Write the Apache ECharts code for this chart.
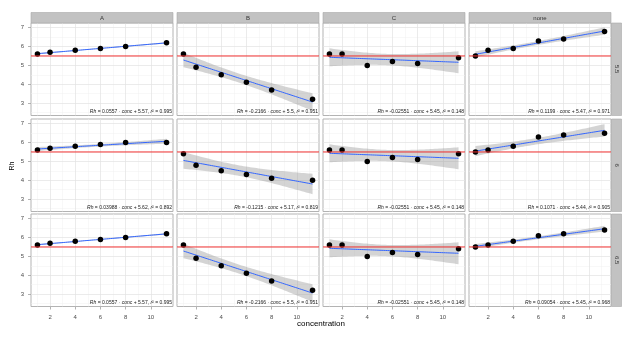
<!DOCTYPE html>
<html><head><meta charset="utf-8">
<script src="https://cdn.jsdelivr.net/npm/echarts@6/dist/echarts.min.js"></script>
<style>html,body{margin:0;padding:0;background:#fff}#c{width:640px;height:339px}</style>
</head><body><div id="c"></div>
<script>
// ---------- data ----------
const concentration = [1, 2, 4, 6, 8, 11.25];
const colFacets = ['A', 'B', 'C', 'none'];
const rowFacets = ['5.5', '6', '6.5'];
const xTicks = [2, 4, 6, 8, 10];
const xMinorTicks = [1, 3, 5, 7, 9, 11];
const yTicks = [3, 4, 5, 6, 7];
const yMinorTicks = [2.5, 3.5, 4.5, 5.5, 6.5];
const refLine = 5.5;

const rh55A = [5.6, 5.7, 5.8, 5.9, 6.0, 6.2];
const rh55B = [5.6, 4.9, 4.5, 4.1, 3.7, 3.2];
const rh55C = [5.6, 5.6, 5.0, 5.2, 5.1, 5.4];
const rh55N = [5.5, 5.8, 5.9, 6.3, 6.4, 6.8];
const rh6A = [5.6, 5.7, 5.8, 5.9, 6.0, 6.0];
const rh6B = [5.4, 4.8, 4.5, 4.3, 4.1, 4.0];
const rh6C = [5.6, 5.6, 5.0, 5.2, 5.1, 5.4];
const rh6N = [5.5, 5.6, 5.8, 6.3, 6.4, 6.5];
const rh65A = [5.6, 5.7, 5.8, 5.9, 6.0, 6.2];
const rh65B = [5.6, 4.9, 4.5, 4.1, 3.7, 3.2];
const rh65C = [5.6, 5.6, 5.0, 5.2, 5.1, 5.4];
const rh65N = [5.5, 5.6, 5.8, 6.1, 6.2, 6.4];

// annotation text: [slope, intercept, r2]
const fit55 = [['0.0557', '5.57', '0.995'], ['-0.2166', '5.5', '0.951'], ['-0.02551', '5.45', '0.148'], ['0.1199', '5.47', '0.971']];
const fit6 = [['0.03988', '5.62', '0.892'], ['-0.1215', '5.17', '0.819'], ['-0.02551', '5.45', '0.148'], ['0.1071', '5.44', '0.905']];
const fit65 = [['0.0557', '5.57', '0.995'], ['-0.2166', '5.5', '0.951'], ['-0.02551', '5.45', '0.148'], ['0.09054', '5.45', '0.968']];

const panelValues = [[rh55A, rh55B, rh55C, rh55N], [rh6A, rh6B, rh6C, rh6N], [rh65A, rh65B, rh65C, rh65N]];
const panelFits = [fit55, fit6, fit65];

// ---------- layout ----------
const X_MIN = 0.4875, X_MAX = 11.7625, Y_MIN = 2.34, Y_MAX = 7.25;
const lefts = [31, 177, 323, 469];
const tops = [23, 119, 214];
const PW = 142, PH = 92.5;
const T975 = 2.776445; // t quantile, df = 4

function linFit(xs, ys) {
  const n = xs.length;
  const xbar = xs.reduce((a, b) => a + b, 0) / n;
  const ybar = ys.reduce((a, b) => a + b, 0) / n;
  let sxx = 0, sxy = 0;
  for (let i = 0; i < n; i++) { sxx += (xs[i] - xbar) ** 2; sxy += (xs[i] - xbar) * (ys[i] - ybar); }
  const b = sxy / sxx, a = ybar - b * xbar;
  let sse = 0;
  for (let i = 0; i < n; i++) sse += (ys[i] - a - b * xs[i]) ** 2;
  return { a, b, s: Math.sqrt(sse / (n - 2)), xbar, sxx, n };
}

const grids = [], xAxes = [], yAxes = [], series = [], titles = [], graphics = [];
const gridColor = '#e3e3e3', minorColor = '#f1f1f1';

for (let r = 0; r < 3; r++) {
  for (let c = 0; c < 4; c++) {
    const gi = r * 4 + c;
    grids.push({ left: lefts[c], top: tops[r], width: PW, height: PH, show: true,
      borderColor: '#b3b3b3', borderWidth: 1, backgroundColor: '#fff' });
    const bottomRow = r === 2, leftCol = c === 0;
    xAxes.push({ gridIndex: gi, type: 'value', min: X_MIN, max: X_MAX, position: 'bottom',
      axisLine: { show: false, onZero: false },
      axisTick: { show: bottomRow, length: 3, customValues: xTicks, lineStyle: { color: '#a0a0a0', width: 0.8 } },
      axisLabel: { show: bottomRow, customValues: xTicks, margin: 8, fontSize: 6, color: '#4d4d4d', fontFamily: 'Liberation Sans' },
      splitLine: { show: true, lineStyle: { color: gridColor, width: 0.7 } }, z: 1 });
    xAxes.push({ gridIndex: gi, type: 'value', min: X_MIN, max: X_MAX, position: 'top',
      axisLine: { show: false, onZero: false }, axisTick: { show: false, customValues: xMinorTicks },
      axisLabel: { show: false }, splitLine: { show: true, lineStyle: { color: minorColor, width: 0.5 } }, z: 0 });
    yAxes.push({ gridIndex: gi, type: 'value', min: Y_MIN, max: Y_MAX, position: 'left',
      axisLine: { show: false, onZero: false },
      axisTick: { show: leftCol, length: 3, customValues: yTicks, lineStyle: { color: '#a0a0a0', width: 0.8 } },
      axisLabel: { show: leftCol, customValues: yTicks, margin: 7, fontSize: 6, color: '#4d4d4d', fontFamily: 'Liberation Sans' },
      splitLine: { show: true, lineStyle: { color: gridColor, width: 0.7 } }, z: 1 });
    yAxes.push({ gridIndex: gi, type: 'value', min: Y_MIN, max: Y_MAX, position: 'right',
      axisLine: { show: false, onZero: false }, axisTick: { show: false, customValues: yMinorTicks },
      axisLabel: { show: false }, splitLine: { show: true, lineStyle: { color: minorColor, width: 0.5 } }, z: 0 });

    const xi = gi * 2, yi = gi * 2;
    const ys = panelValues[r][c];
    const f = linFit(concentration, ys);
    const x0 = concentration[0], x1 = concentration[concentration.length - 1];
    const bandLo = [], bandHi = [], fitLine = [];
    const N = 60;
    for (let k = 0; k <= N; k++) {
      const x = x0 + (x1 - x0) * k / N;
      const yh = f.a + f.b * x;
      const se = f.s * Math.sqrt(1 / f.n + (x - f.xbar) ** 2 / f.sxx);
      bandLo.push([x, yh - T975 * se]);
      bandHi.push([x, yh + T975 * se]);
      fitLine.push([x, yh]);
    }
    series.push({ type: 'custom', xAxisIndex: xi, yAxisIndex: yi, data: [fitLine[0]], silent: true, z: 2,
      clip: true,
      renderItem: (function (lo, hi) {
        return function (params, api) {
          const pts = [];
          for (let k = 0; k < lo.length; k++) pts.push(api.coord(lo[k]));
          for (let k = hi.length - 1; k >= 0; k--) pts.push(api.coord(hi[k]));
          return { type: 'polygon', shape: { points: pts }, style: { fill: 'rgba(153,153,153,0.42)' } };
        };
      })(bandLo, bandHi) });
    series.push({ type: 'custom', xAxisIndex: xi, yAxisIndex: yi, data: [[X_MIN, refLine, X_MAX]], silent: true, z: 6,
      renderItem: function (params, api) {
        const p0 = api.coord([api.value(0), api.value(1)]);
        const p1 = api.coord([api.value(2), api.value(1)]);
        return { type: 'line', shape: { x1: p0[0], y1: p0[1], x2: p1[0], y2: p1[1] },
          style: { stroke: '#f03030', lineWidth: 1, fill: null } };
      } });
    series.push({ type: 'line', xAxisIndex: xi, yAxisIndex: yi, data: fitLine, symbol: 'none',
      lineStyle: { color: '#3366FF', width: 1 }, itemStyle: { color: '#3366FF' }, silent: true, z: 4 });
    series.push({ type: 'scatter', xAxisIndex: xi, yAxisIndex: yi,
      data: concentration.map((x, i) => [x, ys[i]]), symbolSize: 5.5,
      itemStyle: { color: '#000', opacity: 1 }, z: 5 });

    const ft = panelFits[r][c];
    const fs = 5;
    const ty = tops[r] + PH * (Y_MAX - 2.5) / (Y_MAX - Y_MIN) - fs / 2 - 0.5;
    titles.push({ text: '{i|Rh} = ' + ft[0] + ' · {i|conc} + ' + ft[1] + ', {i|r}² = ' + ft[2],
      right: 640 - (lefts[c] + PW) + 1, top: ty, padding: 0,
      textStyle: { fontSize: fs, fontWeight: 'normal', color: '#1a1a1a', fontFamily: 'Liberation Sans',
        rich: { i: { fontStyle: 'italic', fontSize: fs, color: '#1a1a1a', fontFamily: 'Liberation Sans' } } } });
  }
}

// strips
for (let c = 0; c < 4; c++) {
  graphics.push({ type: 'rect', shape: { x: lefts[c], y: 12.5, width: PW, height: 10.5 },
    style: { fill: '#c2c2c2', stroke: '#a8a8a8', lineWidth: 0.6 }, z: 10 });
  graphics.push({ type: 'text', x: lefts[c] + PW / 2, y: 17.9,
    style: { text: colFacets[c], fill: '#333333', fontSize: 6, fontFamily: 'Liberation Sans', align: 'center', verticalAlign: 'middle' }, z: 11 });
}
for (let r = 0; r < 3; r++) {
  graphics.push({ type: 'rect', shape: { x: 611.5, y: tops[r], width: 10, height: PH },
    style: { fill: '#c2c2c2', stroke: '#a8a8a8', lineWidth: 0.6 }, z: 10 });
  graphics.push({ type: 'text', x: 616.5, y: tops[r] + PH / 2, rotation: -Math.PI / 2,
    style: { text: rowFacets[r], fill: '#333333', fontSize: 6, fontFamily: 'Liberation Sans', align: 'center', verticalAlign: 'middle' }, z: 11 });
}
// axis titles
graphics.push({ type: 'text', x: 321, y: 324,
  style: { text: 'concentration', fill: '#000', fontSize: 8, fontFamily: 'Liberation Sans', align: 'center', verticalAlign: 'middle' }, z: 11 });
graphics.push({ type: 'text', x: 12, y: 166, rotation: Math.PI / 2,
  style: { text: 'Rh', fill: '#000', fontSize: 7, fontFamily: 'Liberation Sans', align: 'center', verticalAlign: 'middle' }, z: 11 });

const chart = echarts.init(document.getElementById('c'), null, { renderer: 'canvas' });
chart.setOption({
  animation: false,
  backgroundColor: '#fff',
  grid: grids, xAxis: xAxes, yAxis: yAxes, series: series, title: titles, graphic: graphics
});
</script></body></html>
